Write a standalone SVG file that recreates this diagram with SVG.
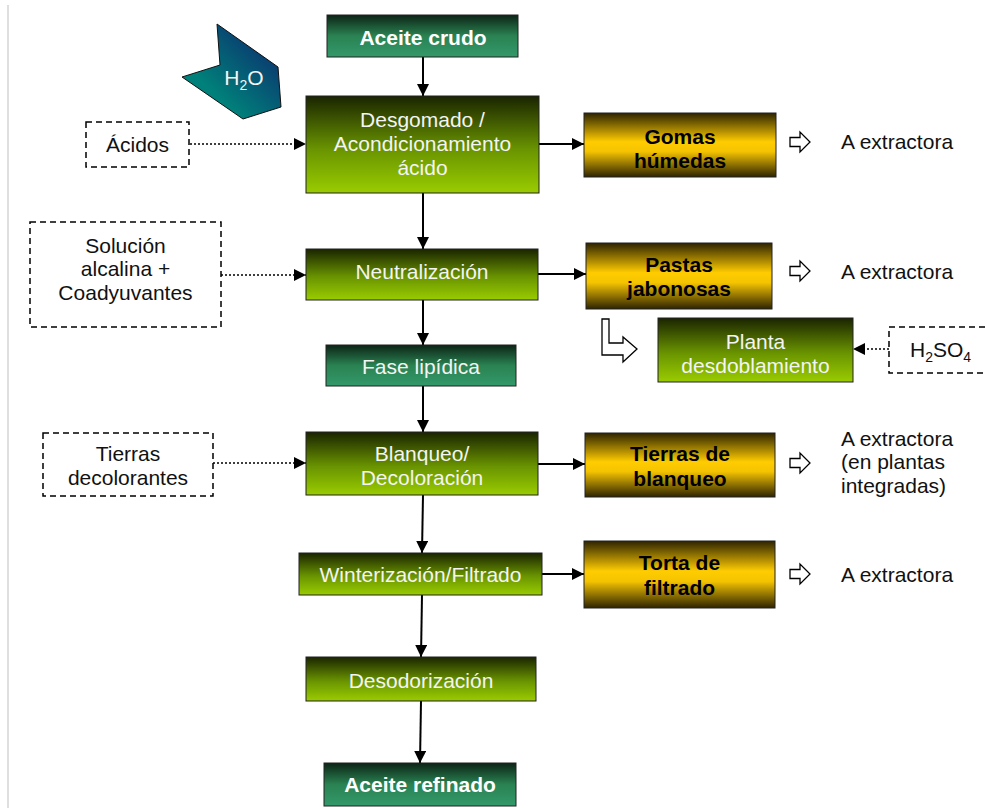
<svg xmlns="http://www.w3.org/2000/svg" width="987" height="808" viewBox="0 0 987 808">
<defs>
<linearGradient id="gGreen" x1="0" y1="0" x2="0" y2="1">
<stop offset="0" stop-color="#1a2400"/><stop offset="0.55" stop-color="#6a9400"/><stop offset="1" stop-color="#9acc00"/>
</linearGradient>
<linearGradient id="gTeal" x1="0" y1="0" x2="0" y2="1">
<stop offset="0" stop-color="#0c2416"/><stop offset="0.5" stop-color="#2a8252"/><stop offset="1" stop-color="#33996a"/>
</linearGradient>
<linearGradient id="gGold" x1="0" y1="0" x2="0" y2="1">
<stop offset="0" stop-color="#2e2400"/><stop offset="0.45" stop-color="#ffcc00"/><stop offset="0.6" stop-color="#f5c400"/><stop offset="1" stop-color="#2e2400"/>
</linearGradient>
<linearGradient id="gWater" x1="1" y1="0" x2="0" y2="1">
<stop offset="0.2" stop-color="#0a3a70"/><stop offset="0.7" stop-color="#00807a"/>
</linearGradient>
<marker id="ah" markerUnits="userSpaceOnUse" markerWidth="13" markerHeight="13" refX="12" refY="6" orient="auto">
<path d="M0,0 L12,6 L0,12 z" fill="#000"/>
</marker>
<path id="harrow" d="M0,-4.5 H10 V-10 L20,0 L10,10 V4.5 H0 Z" fill="#fff" stroke="#000" stroke-width="1.3"/>
</defs>
<style>
text{font-family:"Liberation Sans",Arial,sans-serif;font-size:21px;text-anchor:middle}
.w{fill:#f4f4f4}
.wb{fill:#fff;font-weight:bold}
.kb{fill:#000;font-weight:bold}
.k{fill:#111}
.l{text-anchor:start}
.green{fill:url(#gGreen);stroke:#222;stroke-width:1}
.teal{fill:url(#gTeal);stroke:#222;stroke-width:1}
.gold{fill:url(#gGold);stroke:#222;stroke-width:1}
.dash{fill:#fff;stroke:#000;stroke-width:1.5;stroke-dasharray:6,4}
.flow{stroke:#000;stroke-width:2;fill:none;marker-end:url(#ah)}
.dot{stroke:#000;stroke-width:1.5;stroke-dasharray:2,2;fill:none;marker-end:url(#ah)}
</style>
<rect width="987" height="808" fill="#fff"/>
<line x1="8" y1="5" x2="8" y2="808" stroke="#d4d4d4" stroke-width="1.5"/>

<g id="connectors">
<line class="flow" x1="423" y1="57" x2="423" y2="96"/>
<line class="flow" x1="423" y1="193" x2="423" y2="249"/>
<line class="flow" x1="423" y1="300" x2="423" y2="345"/>
<line class="flow" x1="423" y1="386" x2="423" y2="432"/>
<line class="flow" x1="423" y1="495" x2="422" y2="553"/>
<line class="flow" x1="422" y1="595" x2="421" y2="657"/>
<line class="flow" x1="421" y1="701" x2="420" y2="763"/>
<line class="flow" x1="539" y1="144" x2="584" y2="144"/>
<line class="flow" x1="538" y1="274" x2="586" y2="274"/>
<line class="flow" x1="538" y1="464" x2="585" y2="464"/>
<line class="flow" x1="542" y1="574" x2="584" y2="574"/>
<line class="dot" x1="190" y1="144" x2="306" y2="144"/>
<line class="dot" x1="221" y1="275" x2="306" y2="275"/>
<line class="dot" x1="213" y1="463" x2="306" y2="463"/>
<line class="dot" x1="889" y1="349" x2="853" y2="349"/>
<use href="#harrow" x="790" y="142"/>
<use href="#harrow" x="790" y="271"/>
<use href="#harrow" x="790" y="463"/>
<use href="#harrow" x="790" y="574"/>
<path d="M602,319 H609 V343 H623 V337 L637,349 L623,362 V355 H602 Z" fill="#fff" stroke="#000" stroke-width="1.3"/>
</g>

<g id="h2o">
<polygon points="217,24 278,67 281,107 243,119 182,77 220,65" fill="url(#gWater)" stroke="#111" stroke-width="1"/>
<text x="244" y="85" class="w" font-size="20">H<tspan dy="5" font-size="14">2</tspan><tspan dy="-5">O</tspan></text>
</g>

<g id="aceite-crudo">
<rect x="327" y="15" width="191" height="42" class="teal"/>
<text x="423" y="44.5" class="wb">Aceite crudo</text>
</g>

<g id="desgomado">
<rect x="306" y="96" width="233" height="97" class="green"/>
<text x="422.5" y="126.5" class="w">Desgomado /</text>
<text x="422.5" y="150.5" class="w">Acondicionamiento</text>
<text x="422.5" y="174.5" class="w">ácido</text>
</g>

<g id="acidos">
<rect x="86" y="122" width="103" height="45" class="dash"/>
<text x="137.5" y="151.5" class="k">Ácidos</text>
</g>

<g id="gomas">
<rect x="584" y="113" width="192" height="64" class="gold"/>
<text x="680" y="143.5" class="kb">Gomas</text>
<text x="680" y="167.5" class="kb">húmedas</text>
</g>
<text x="841" y="148.5" class="k l">A extractora</text>

<g id="solucion">
<rect x="30" y="222" width="191" height="105" class="dash"/>
<text x="125.5" y="252.5" class="k">Solución</text>
<text x="125.5" y="276" class="k">alcalina +</text>
<text x="125.5" y="299.5" class="k">Coadyuvantes</text>
</g>

<g id="neutralizacion">
<rect x="306" y="249" width="232" height="51" class="green"/>
<text x="422" y="278.5" class="w">Neutralización</text>
</g>

<g id="pastas">
<rect x="586" y="243" width="186" height="66" class="gold"/>
<text x="679" y="271.5" class="kb">Pastas</text>
<text x="679" y="295.5" class="kb">jabonosas</text>
</g>
<text x="841" y="278.5" class="k l">A extractora</text>

<g id="planta">
<rect x="658" y="318" width="195" height="64" class="green"/>
<text x="755.5" y="349" class="w">Planta</text>
<text x="755.5" y="372.5" class="w">desdoblamiento</text>
</g>

<g id="h2so4">
<rect x="889" y="327" width="104" height="46" class="dash"/>
<text x="910" y="357" class="k l">H<tspan dy="5" font-size="14">2</tspan><tspan dy="-5">SO</tspan><tspan dy="5" font-size="14">4</tspan></text>
</g>

<g id="fase-lipidica">
<rect x="326" y="345" width="190" height="41" class="teal"/>
<text x="421" y="373.5" class="w">Fase lipídica</text>
</g>

<g id="tierras-decolorantes">
<rect x="43" y="433" width="170" height="63" class="dash"/>
<text x="128" y="460.5" class="k">Tierras</text>
<text x="128" y="485" class="k">decolorantes</text>
</g>

<g id="blanqueo">
<rect x="306" y="432" width="232" height="63" class="green"/>
<text x="422" y="460.5" class="w">Blanqueo/</text>
<text x="422" y="485" class="w">Decoloración</text>
</g>

<g id="tierras-blanqueo">
<rect x="585" y="433" width="190" height="64" class="gold"/>
<text x="680" y="461" class="kb">Tierras de</text>
<text x="680" y="485.5" class="kb">blanqueo</text>
</g>
<text x="841" y="445.5" class="k l">A extractora</text>
<text x="841" y="469" class="k l">(en plantas</text>
<text x="841" y="492.5" class="k l">integradas)</text>

<g id="winterizacion">
<rect x="299" y="553" width="243" height="42" class="green"/>
<text x="420.5" y="581.5" class="w">Winterización/Filtrado</text>
</g>

<g id="torta">
<rect x="584" y="541" width="191" height="67" class="gold"/>
<text x="679.5" y="570" class="kb">Torta de</text>
<text x="679.5" y="595" class="kb">filtrado</text>
</g>
<text x="841" y="581.5" class="k l">A extractora</text>

<g id="desodorizacion">
<rect x="306" y="657" width="230" height="44" class="green"/>
<text x="421" y="687.5" class="w">Desodorización</text>
</g>

<g id="aceite-refinado">
<rect x="324" y="763" width="192" height="43" class="teal"/>
<text x="420" y="791.5" class="wb">Aceite refinado</text>
</g>
</svg>
